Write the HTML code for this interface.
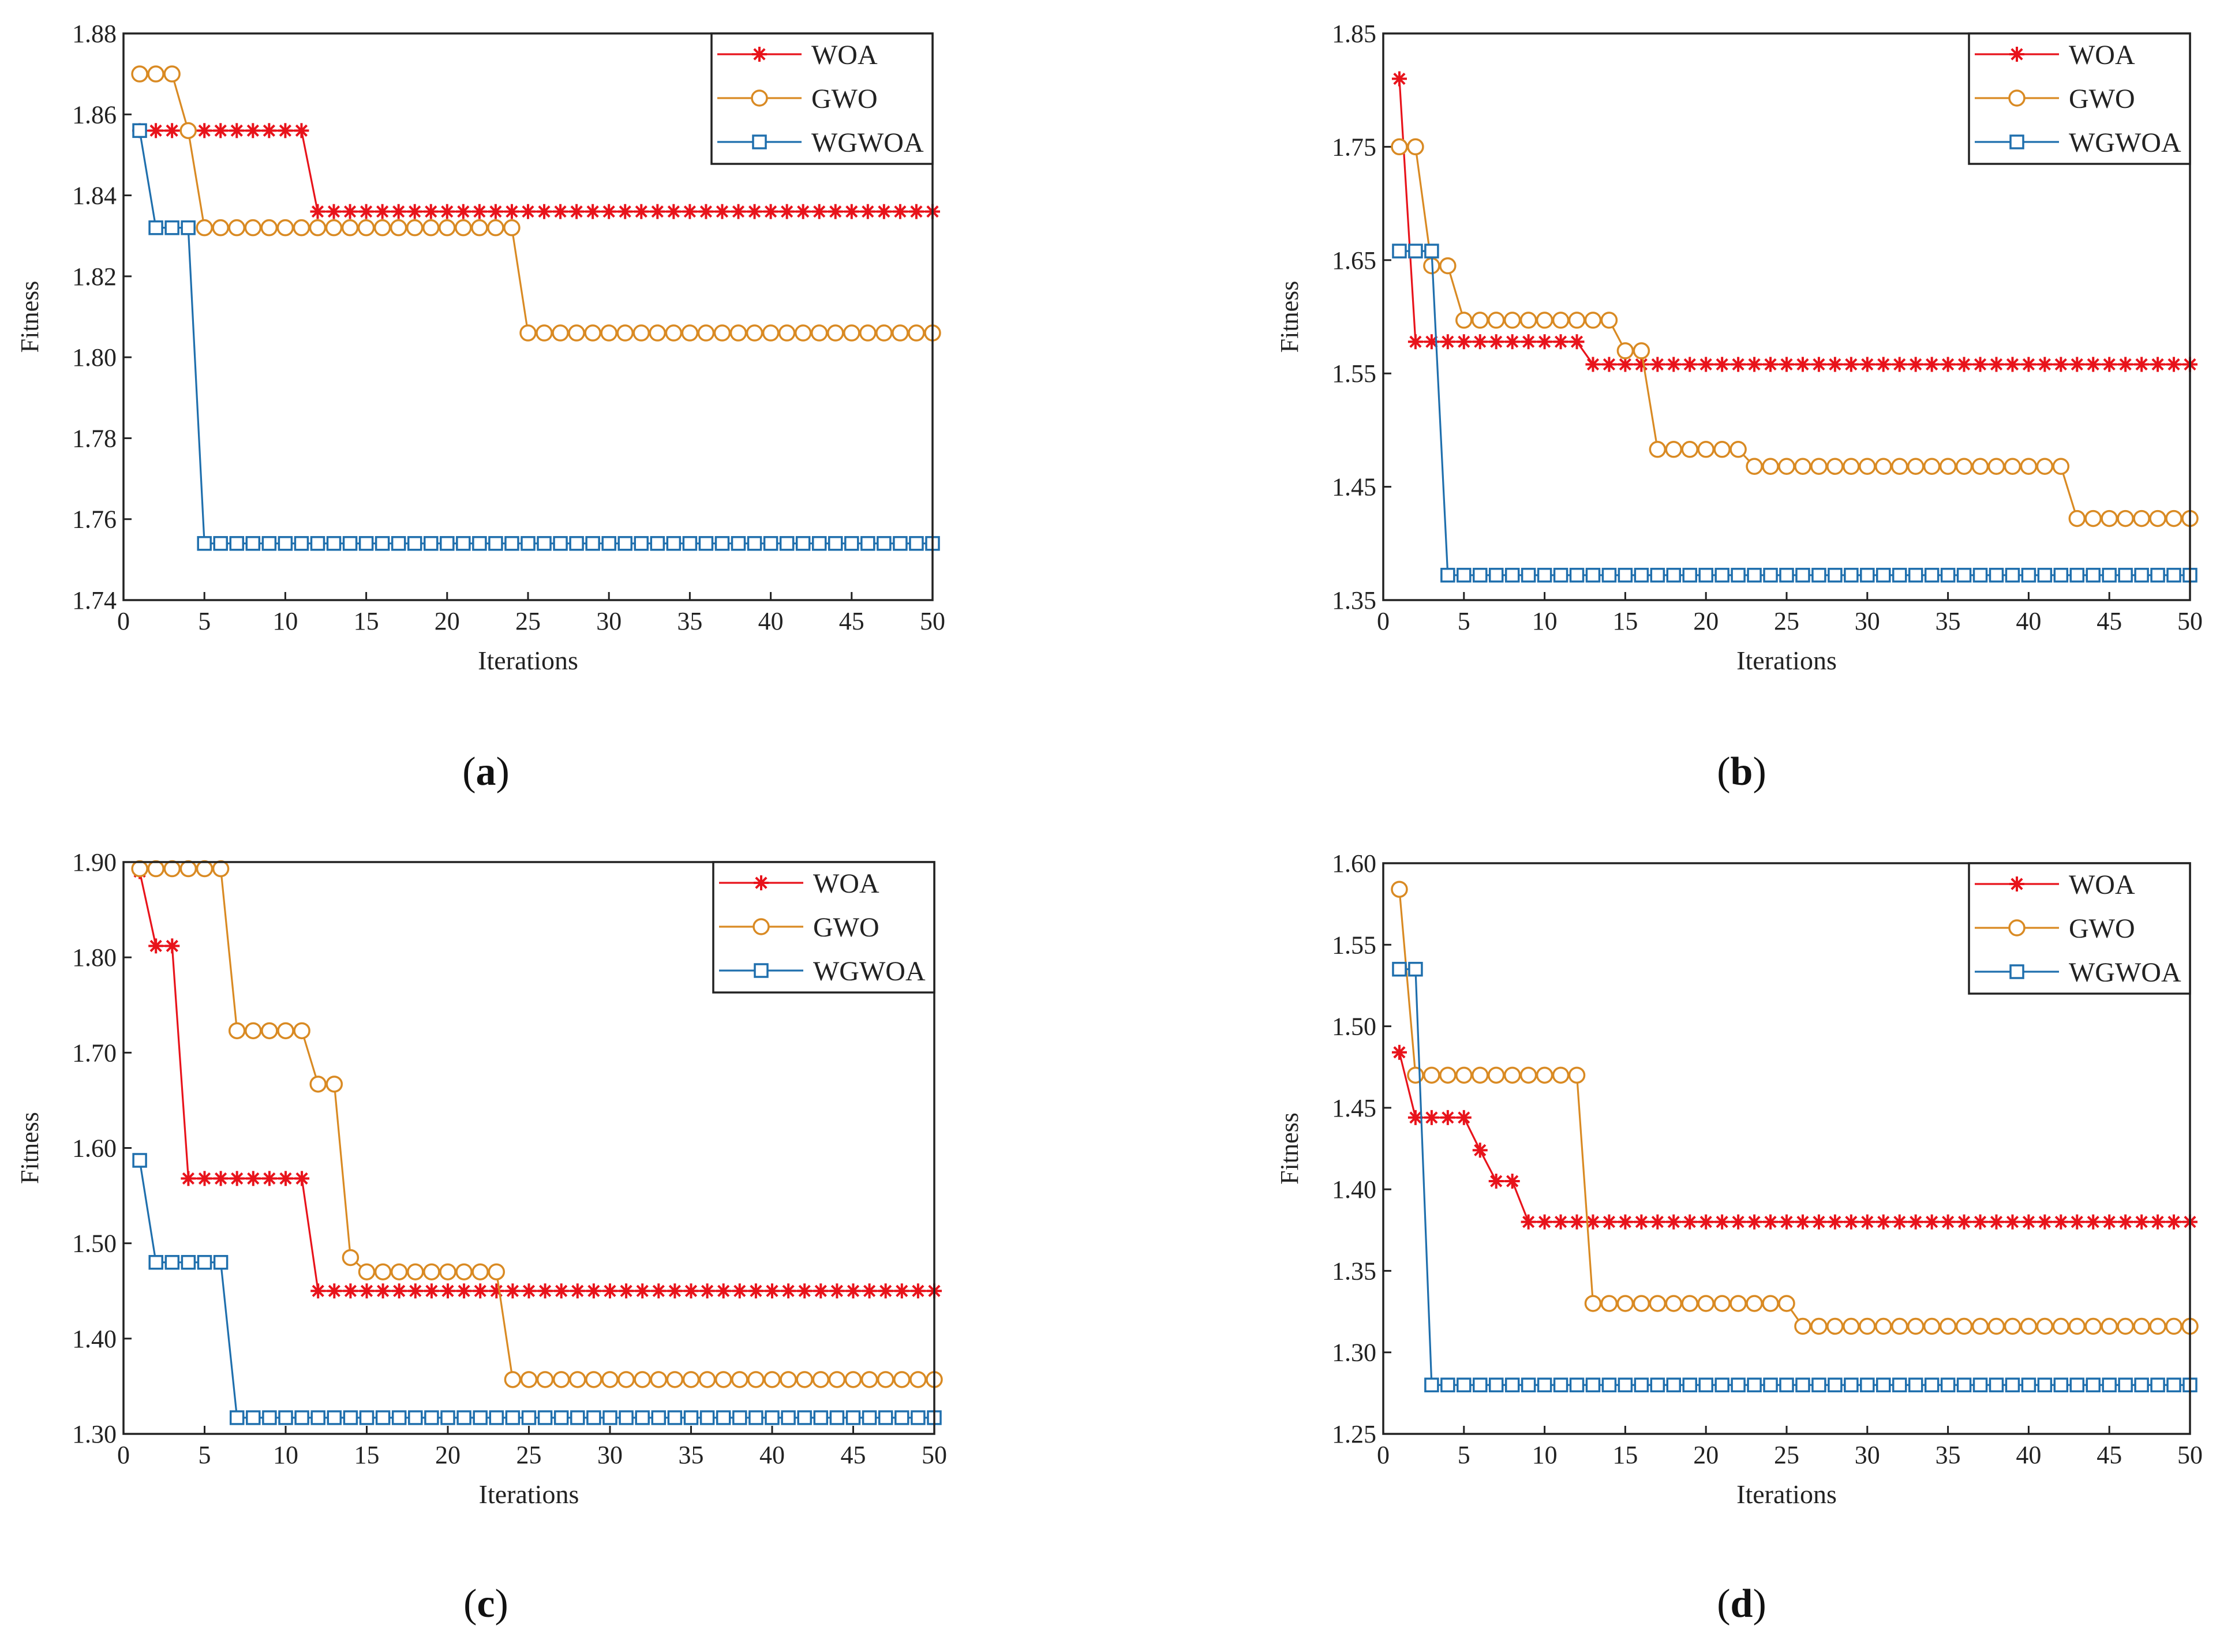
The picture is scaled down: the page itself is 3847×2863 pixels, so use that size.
<!DOCTYPE html>
<html><head><meta charset="utf-8"><style>
html,body{margin:0;padding:0;background:#fff;}
svg{display:block;font-family:"Liberation Serif",serif;}
</style></head><body>
<svg id="fig" width="3847" height="2863" viewBox="0 0 3847 2863" xmlns="http://www.w3.org/2000/svg"></svg>
<script>
const iterations = [1,2,3,4,5,6,7,8,9,10,11,12,13,14,15,16,17,18,19,20,21,22,23,24,25,26,27,28,29,30,31,32,33,34,35,36,37,38,39,40,41,42,43,44,45,46,47,48,49,50];
const xTicks = [0,5,10,15,20,25,30,35,40,45,50];
const seriesNames = ["WOA","GWO","WGWOA"];

const aTicks = ["1.74","1.76","1.78","1.80","1.82","1.84","1.86","1.88"];
const aWOA = [1.856,1.856,1.856,1.856,1.856,1.856,1.856,1.856,1.856,1.856,
1.856,1.836,1.836,1.836,1.836,1.836,1.836,1.836,1.836,1.836,
1.836,1.836,1.836,1.836,1.836,1.836,1.836,1.836,1.836,1.836,
1.836,1.836,1.836,1.836,1.836,1.836,1.836,1.836,1.836,1.836,
1.836,1.836,1.836,1.836,1.836,1.836,1.836,1.836,1.836,1.836];
const aGWO = [1.870,1.870,1.870,1.856,1.832,1.832,1.832,1.832,1.832,1.832,
1.832,1.832,1.832,1.832,1.832,1.832,1.832,1.832,1.832,1.832,
1.832,1.832,1.832,1.832,1.806,1.806,1.806,1.806,1.806,1.806,
1.806,1.806,1.806,1.806,1.806,1.806,1.806,1.806,1.806,1.806,
1.806,1.806,1.806,1.806,1.806,1.806,1.806,1.806,1.806,1.806];
const aWGWOA = [1.856,1.832,1.832,1.832,1.754,1.754,1.754,1.754,1.754,1.754,
1.754,1.754,1.754,1.754,1.754,1.754,1.754,1.754,1.754,1.754,
1.754,1.754,1.754,1.754,1.754,1.754,1.754,1.754,1.754,1.754,
1.754,1.754,1.754,1.754,1.754,1.754,1.754,1.754,1.754,1.754,
1.754,1.754,1.754,1.754,1.754,1.754,1.754,1.754,1.754,1.754];

const bTicks = ["1.35","1.45","1.55","1.65","1.75","1.85"];
const bWOA = [1.810,1.578,1.578,1.578,1.578,1.578,1.578,1.578,1.578,1.578,
1.578,1.578,1.558,1.558,1.558,1.558,1.558,1.558,1.558,1.558,
1.558,1.558,1.558,1.558,1.558,1.558,1.558,1.558,1.558,1.558,
1.558,1.558,1.558,1.558,1.558,1.558,1.558,1.558,1.558,1.558,
1.558,1.558,1.558,1.558,1.558,1.558,1.558,1.558,1.558,1.558];
const bGWO = [1.750,1.750,1.645,1.645,1.597,1.597,1.597,1.597,1.597,1.597,
1.597,1.597,1.597,1.597,1.570,1.570,1.483,1.483,1.483,1.483,
1.483,1.483,1.468,1.468,1.468,1.468,1.468,1.468,1.468,1.468,
1.468,1.468,1.468,1.468,1.468,1.468,1.468,1.468,1.468,1.468,
1.468,1.468,1.422,1.422,1.422,1.422,1.422,1.422,1.422,1.422];
const bWGWOA = [1.658,1.658,1.658,1.372,1.372,1.372,1.372,1.372,1.372,1.372,
1.372,1.372,1.372,1.372,1.372,1.372,1.372,1.372,1.372,1.372,
1.372,1.372,1.372,1.372,1.372,1.372,1.372,1.372,1.372,1.372,
1.372,1.372,1.372,1.372,1.372,1.372,1.372,1.372,1.372,1.372,
1.372,1.372,1.372,1.372,1.372,1.372,1.372,1.372,1.372,1.372];

const cTicks = ["1.30","1.40","1.50","1.60","1.70","1.80","1.90"];
const cWOA = [1.890,1.812,1.812,1.568,1.568,1.568,1.568,1.568,1.568,1.568,
1.568,1.450,1.450,1.450,1.450,1.450,1.450,1.450,1.450,1.450,
1.450,1.450,1.450,1.450,1.450,1.450,1.450,1.450,1.450,1.450,
1.450,1.450,1.450,1.450,1.450,1.450,1.450,1.450,1.450,1.450,
1.450,1.450,1.450,1.450,1.450,1.450,1.450,1.450,1.450,1.450];
const cGWO = [1.893,1.893,1.893,1.893,1.893,1.893,1.723,1.723,1.723,1.723,
1.723,1.667,1.667,1.485,1.470,1.470,1.470,1.470,1.470,1.470,
1.470,1.470,1.470,1.357,1.357,1.357,1.357,1.357,1.357,1.357,
1.357,1.357,1.357,1.357,1.357,1.357,1.357,1.357,1.357,1.357,
1.357,1.357,1.357,1.357,1.357,1.357,1.357,1.357,1.357,1.357];
const cWGWOA = [1.587,1.480,1.480,1.480,1.480,1.480,1.317,1.317,1.317,1.317,
1.317,1.317,1.317,1.317,1.317,1.317,1.317,1.317,1.317,1.317,
1.317,1.317,1.317,1.317,1.317,1.317,1.317,1.317,1.317,1.317,
1.317,1.317,1.317,1.317,1.317,1.317,1.317,1.317,1.317,1.317,
1.317,1.317,1.317,1.317,1.317,1.317,1.317,1.317,1.317,1.317];

const dTicks = ["1.25","1.30","1.35","1.40","1.45","1.50","1.55","1.60"];
const dWOA = [1.484,1.444,1.444,1.444,1.444,1.424,1.405,1.405,1.380,1.380,
1.380,1.380,1.380,1.380,1.380,1.380,1.380,1.380,1.380,1.380,
1.380,1.380,1.380,1.380,1.380,1.380,1.380,1.380,1.380,1.380,
1.380,1.380,1.380,1.380,1.380,1.380,1.380,1.380,1.380,1.380,
1.380,1.380,1.380,1.380,1.380,1.380,1.380,1.380,1.380,1.380];
const dGWO = [1.584,1.470,1.470,1.470,1.470,1.470,1.470,1.470,1.470,1.470,
1.470,1.470,1.330,1.330,1.330,1.330,1.330,1.330,1.330,1.330,
1.330,1.330,1.330,1.330,1.330,1.316,1.316,1.316,1.316,1.316,
1.316,1.316,1.316,1.316,1.316,1.316,1.316,1.316,1.316,1.316,
1.316,1.316,1.316,1.316,1.316,1.316,1.316,1.316,1.316,1.316];
const dWGWOA = [1.535,1.535,1.280,1.280,1.280,1.280,1.280,1.280,1.280,1.280,
1.280,1.280,1.280,1.280,1.280,1.280,1.280,1.280,1.280,1.280,
1.280,1.280,1.280,1.280,1.280,1.280,1.280,1.280,1.280,1.280,
1.280,1.280,1.280,1.280,1.280,1.280,1.280,1.280,1.280,1.280,
1.280,1.280,1.280,1.280,1.280,1.280,1.280,1.280,1.280,1.280];

const NS = "http://www.w3.org/2000/svg";
const svg = document.getElementById("fig");
const COLORS = ["#e8131b", "#d98a23", "#1f6fad"];

function mk(tag, parent, attrs) {
  const e = document.createElementNS(NS, tag);
  for (const k in attrs) e.setAttribute(k, attrs[k]);
  parent.appendChild(e);
  return e;
}

function marker(g, kind, cx, cy, color) {
  const m = mk("g", g, {});
  if (kind === 0) {
    
    
    const r = 13;
    for (let i = 0; i < 4; i++) {
      const a = i * Math.PI / 4;
      mk("line", m, {x1: cx - r*Math.cos(a), y1: cy - r*Math.sin(a), x2: cx + r*Math.cos(a), y2: cy + r*Math.sin(a), stroke: color, "stroke-width": 4});
    }
  } else if (kind === 1) {
    
    
    mk("circle", m, {cx: cx, cy: cy, r: 13, fill: "#fff", stroke: color, "stroke-width": 3.5});
  } else {
    
    
    mk("rect", m, {x: cx - 11, y: cy - 11, width: 22, height: 22, fill: "#fff", stroke: color, "stroke-width": 3.5});
  }
}

function panel(cfg) {
  const g = mk("g", svg, {});
  
  
  const L = cfg.L, R = cfg.R, T = cfg.T, B = cfg.B;
  const ymin = parseFloat(cfg.ticks[0]), ymax = parseFloat(cfg.ticks[cfg.ticks.length - 1]);
  const xs = v => L + (v - 0) / 50 * (R - L);
  const ys = v => B - (v - ymin) / (ymax - ymin) * (B - T);

  // ticks
  for (const t of xTicks) {
    const x = xs(t);
    const tk = mk("line", g, {x1: x, y1: B, x2: x, y2: B - 14, stroke: "#222", "stroke-width": 3});
    
    
    const lb = mk("text", g, {x: x, y: B + 51, "text-anchor": "middle", "font-size": 44, fill: "#222"});
    lb.textContent = t;
    
    
  }
  for (const t of cfg.ticks) {
    const y = ys(parseFloat(t));
    const tk = mk("line", g, {x1: L, y1: y, x2: L + 14, y2: y, stroke: "#222", "stroke-width": 3});
    
    
    const lb = mk("text", g, {x: L - 12, y: y + 15, "text-anchor": "end", "font-size": 44, fill: "#222"});
    lb.textContent = t;
    
    
  }

  // series
  cfg.series.forEach((vals, si) => {
    const sg = mk("g", g, {});
    
    
    const pts = vals.map((v, i) => xs(iterations[i]) + "," + ys(v)).join(" ");
    mk("polyline", sg, {points: pts, fill: "none", stroke: COLORS[si], "stroke-width": 3.2});
    vals.forEach((v, i) => marker(sg, si, xs(iterations[i]), ys(v), COLORS[si]));
  });

  // axes box
  const box = mk("rect", g, {x: L, y: T, width: R - L, height: B - T, fill: "none", stroke: "#222", "stroke-width": 3.5});
  
  

  // legend
  const lg = mk("g", g, {});
  
  
  const lx = R - 383, lw = 383, lh = 226;
  mk("rect", lg, {x: lx, y: T, width: lw, height: lh, fill: "#fff", stroke: "#222", "stroke-width": 3.5});
  seriesNames.forEach((n, si) => {
    const ey = T + 36 + si * 76;
    const le = mk("g", lg, {});
    
    
    mk("line", le, {x1: lx + 10, y1: ey, x2: lx + 156, y2: ey, stroke: COLORS[si], "stroke-width": 3.2});
    marker(le, si, lx + 83, ey, COLORS[si]);
    const tx = mk("text", le, {x: lx + 173, y: ey + 17, "font-size": 48, fill: "#222"});
    tx.textContent = n;
  });

  const yl = mk("text", g, {x: 0, y: 0, "text-anchor": "middle", "font-size": 44, fill: "#222", transform: "translate(" + (cfg.L - 148) + "," + ((T + B) / 2) + ") rotate(-90)"});
  yl.textContent = "Fitness";
  
  
  const xl = mk("text", g, {x: (L + R) / 2, y: B + 120, "text-anchor": "middle", "font-size": 46, fill: "#222"});
  xl.textContent = "Iterations";
  
  
  const cap = mk("text", g, {x: cfg.capX, y: cfg.capY, "text-anchor": "middle", "font-size": 70, fill: "#111"});
  cap.innerHTML = '(<tspan font-weight="bold">' + cfg.id + '</tspan>)';
  
  
}

panel({id: "a", L: 214, R: 1616, T: 58, B: 1040, ticks: aTicks, series: [aWOA, aGWO, aWGWOA], capX: 842, capY: 1360});
panel({id: "b", L: 2397, R: 3795, T: 58, B: 1040, ticks: bTicks, series: [bWOA, bGWO, bWGWOA], capX: 3018, capY: 1360});
panel({id: "c", L: 214, R: 1619, T: 1494, B: 2485, ticks: cTicks, series: [cWOA, cGWO, cWGWOA], capX: 842, capY: 2802});
panel({id: "d", L: 2397, R: 3795, T: 1496, B: 2485, ticks: dTicks, series: [dWOA, dGWO, dWGWOA], capX: 3018, capY: 2802});
</script>
</body></html>
